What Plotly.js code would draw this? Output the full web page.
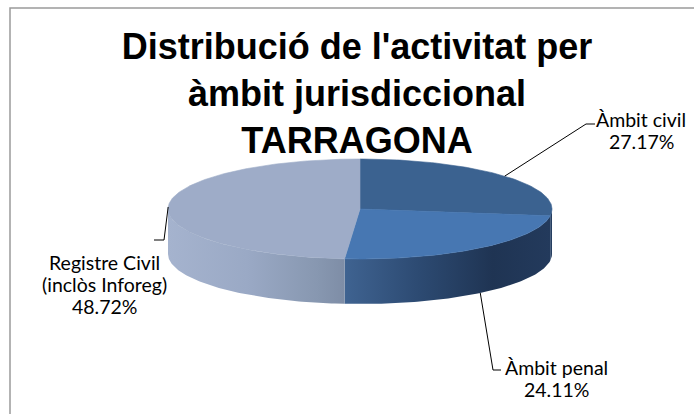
<!DOCTYPE html>
<html>
<head>
<meta charset="utf-8">
<script src="https://cdn.plot.ly/plotly-3.0.1.min.js"></script>
<style>html,body{margin:0;padding:0;background:#fff;}#chart{width:694px;height:414px;}</style>
</head>
<body>
<div id="chart"></div>
<script>
// ---- data ----
const categories = ['Àmbit civil', 'Àmbit penal', 'Registre Civil<br>(inclòs Inforeg)'];
const shares = [27.17, 24.11, 48.72];
const titleText = "Distribució de l'activitat per<br>àmbit jurisdiccional<br>TARRAGONA";

// ---- styling / geometry (pixel space) ----
const topColors = ['#3b6290', '#4777b2', '#9eacc8'];
const sideScales = [
  [[0, '#2d4a70'], [1, '#233a5a']],
  [[0, '#3f6391'], [0.35, '#2d4b73'], [0.72, '#1f3453'], [1, '#233a5c']],
  [[0, '#a5b3ce'], [0.45, '#9aa9c5'], [0.85, '#8797b0'], [1, '#7e8da6']]
];
const CX = 360, CY = 209, RX = 192, RY = 50, DEPTH = 45;
const LINE_PITCH = 22;
const labelPos = [
  {x: 641, y: 119, elbow: [586, 124], end: [595, 124], onSide: false},
  {x: 556, y: 367, elbow: [493, 370], end: [501, 370], onSide: true},
  {x: 104, y: 262, elbow: [164, 240], end: [154, 240], onSide: false}
];
const FONT_LBL = 'Lato, "Liberation Sans", Arial, sans-serif';
const FONT_TTL = '"Liberation Sans", Arial, sans-serif';

function pt(deg, dy) {
  const r = deg * Math.PI / 180;
  return [CX + RX * Math.sin(r), CY - RY * Math.cos(r) + (dy || 0)];
}
function arc(a, b, dy) {
  const xs = [], ys = [];
  const n = Math.max(2, Math.ceil(Math.abs(b - a)));
  for (let i = 0; i <= n; i++) {
    const p = pt(a + (b - a) * i / n, dy);
    xs.push(p[0]); ys.push(p[1]);
  }
  return [xs, ys];
}

const total = shares.reduce((s, v) => s + v, 0);
const starts = [], ends = [];
let acc = 0;
shares.forEach(v => { starts.push(acc / total * 360); acc += v; ends.push(acc / total * 360); });

const traces = [];
// side faces (visible lower half 90..270)
shares.forEach((v, i) => {
  const a = Math.max(starts[i], 90), b = Math.min(ends[i], 270);
  if (a >= b) return;
  const [x1, y1] = arc(a, b, 0);
  const [x2, y2] = arc(b, a, DEPTH);
  traces.push({
    type: 'scatter', mode: 'lines', x: x1.concat(x2), y: y1.concat(y2),
    fill: 'toself', fillgradient: {type: 'horizontal', colorscale: sideScales[i]},
    line: {width: 0}, hoverinfo: 'skip', showlegend: false
  });
});
// top faces
shares.forEach((v, i) => {
  const [xa, ya] = arc(starts[i], ends[i], 0);
  traces.push({
    type: 'scatter', mode: 'lines', x: [CX].concat(xa, [CX]), y: [CY].concat(ya, [CY]),
    fill: 'toself', fillcolor: topColors[i],
    line: {width: 0.6, color: topColors[i]}, hoverinfo: 'skip', showlegend: false, name: categories[i]
  });
});
// leader lines + labels
const annotations = [];
shares.forEach((v, i) => {
  const mid = (starts[i] + ends[i]) / 2;
  const L = labelPos[i];
  const p = pt(mid, L.onSide ? DEPTH : 0);
  traces.push({
    type: 'scatter', mode: 'lines', x: [p[0], L.elbow[0], L.end[0]], y: [p[1], L.elbow[1], L.end[1]],
    line: {color: '#000', width: 1}, hoverinfo: 'skip', showlegend: false
  });
  const lines = categories[i].split('<br>').concat([v.toFixed(2) + '%']);
  lines.forEach((t, k) => {
    annotations.push({
      x: L.x, y: L.y + k * LINE_PITCH, xref: 'x', yref: 'y', xanchor: 'center', yanchor: 'middle',
      text: t, showarrow: false, align: 'center',
      font: {family: FONT_LBL, size: 19.5, color: '#000'}
    });
  });
});

const layout = {
  width: 694, height: 414,
  margin: {l: 0, r: 0, t: 0, b: 0},
  paper_bgcolor: '#fff', plot_bgcolor: '#fff',
  xaxis: {range: [0, 694], visible: false, fixedrange: true},
  yaxis: {range: [414, 0], visible: false, fixedrange: true},
  title: {
    text: titleText, xref: 'container', yref: 'container',
    x: 357 / 694, xanchor: 'center', y: 1 - 59 / 414, yanchor: 'top',
    font: {family: FONT_TTL, size: 36, color: '#000', weight: 'bold'}
  },
  annotations: annotations,
  shapes: [{type: 'rect', xref: 'paper', yref: 'paper', x0: 10 / 694, x1: 1.02, y0: -0.02, y1: 1 - 8 / 414,
            line: {color: '#9a9a9a', width: 1.5}, fillcolor: 'rgba(0,0,0,0)', layer: 'below'}],
  showlegend: false, hovermode: false
};

Plotly.newPlot('chart', traces, layout, {staticPlot: true, displayModeBar: false});
</script>
</body>
</html>
